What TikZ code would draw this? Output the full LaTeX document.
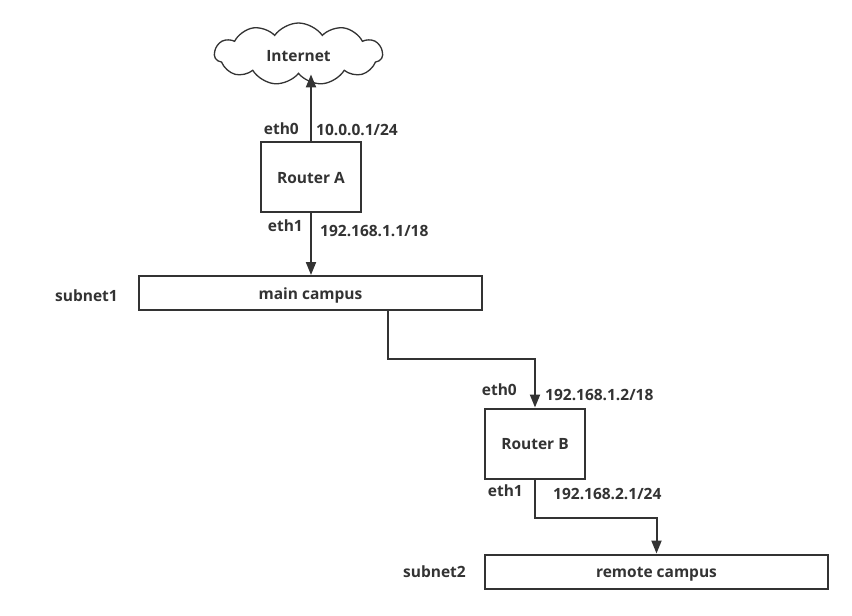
\documentclass[tikz,border=0pt]{standalone}
\usepackage{fontspec}
\setmainfont{Open Sans}
\usetikzlibrary{shapes.symbols,arrows.meta}
\definecolor{ink}{HTML}{333333}
\tikzset{
  box/.style={draw=ink, line width=2pt, fill=white, text=ink, inner sep=0pt, text height=12pt, text depth=0pt},
  lbl/.style={text=ink, inner sep=0pt},
  arr/.style={draw=ink, line width=2pt, -{Triangle[length=13pt,width=10pt]}},
}
\begin{document}
\begin{tikzpicture}[x=1pt,y=-1pt,font=\fontsize{15.5}{18}\selectfont\bfseries]
\path[use as bounding box, fill=white] (0,0) rectangle (852,616);
\node[cloud, cloud puffs=11, cloud puff arc=110, aspect=3, draw=ink, line width=1.3pt, text=ink,
      minimum width=168pt, minimum height=62pt, inner sep=0pt, text height=14pt, text depth=0pt] (cloud) at (298.5,54) {Internet};
\node[box, minimum width=100pt, minimum height=70pt] (ra) at (311,177) {Router A};
\node[box, minimum width=343pt, minimum height=34pt] (mc) at (310.5,293) {main campus};
\node[box, minimum width=100pt, minimum height=70pt] (rb) at (535,443.5) {Router B};
\node[box, minimum width=343pt, minimum height=34pt] (rc) at (656.5,571.5) {remote campus};

\draw[arr] (ra.north) -- (ra.north |- cloud.south);
\draw[arr] (ra.south) -- (ra.south |- mc.north);
\draw[arr] ([xshift=77.5pt]mc.south) -- ++(0,48) -| (rb.north);
\draw[arr] (rb.south) -- ++(0,38) -| (rc.north);

\node[lbl, anchor=mid east] (l1) at (299,132) {eth0};
\node[lbl, anchor=mid west] (l2) at (316,133) {10.0.0.1/24};
\node[lbl, anchor=mid east] (l3) at (303,229) {eth1};
\node[lbl, anchor=mid west] (l4) at (320,234) {192.168.1.1/18};
\node[lbl, anchor=mid east] (l5) at (118,299) {subnet1};
\node[lbl, anchor=mid east] (l6) at (517,393) {eth0};
\node[lbl, anchor=mid west] (l7) at (545,398) {192.168.1.2/18};
\node[lbl, anchor=mid east] (l8) at (523,494) {eth1};
\node[lbl, anchor=mid west] (l9) at (553,497) {192.168.2.1/24};
\node[lbl, anchor=mid east] (l10) at (466,575) {subnet2};
\end{tikzpicture}
\end{document}
